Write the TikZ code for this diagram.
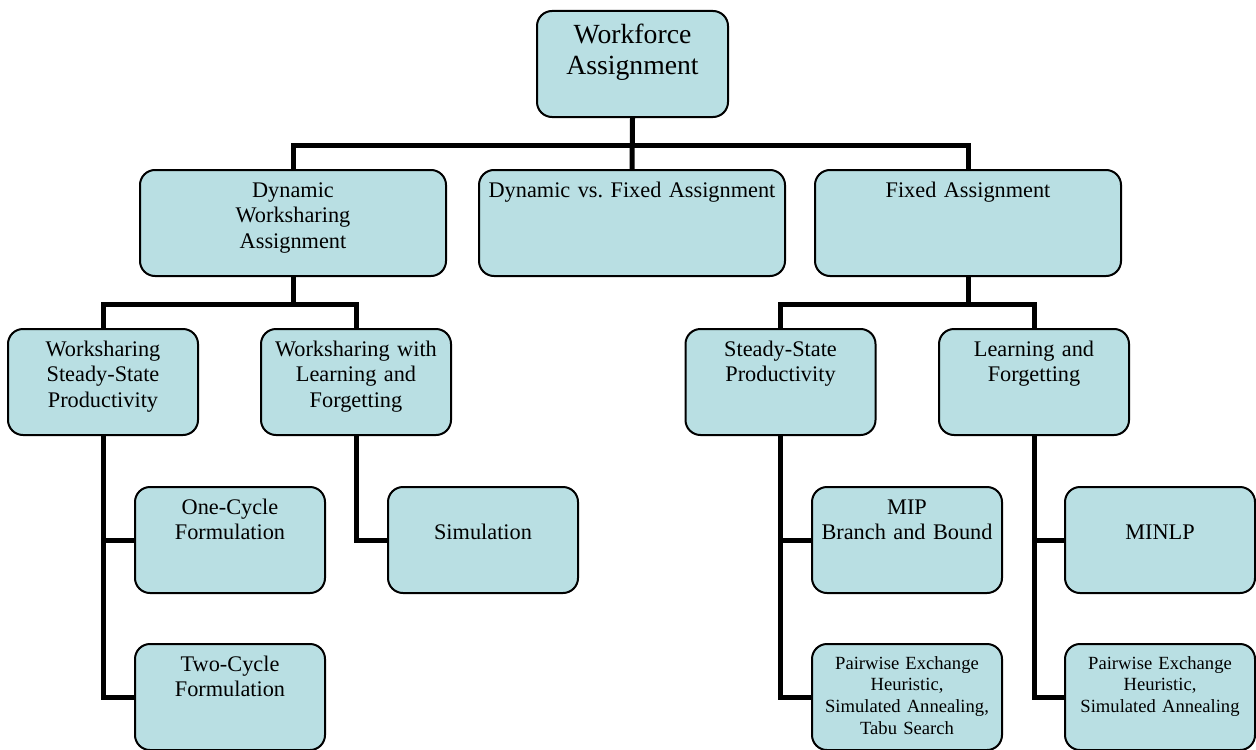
\documentclass[tikz,border=0pt]{standalone}
\usepackage{fontspec}
\setmainfont{Liberation Serif}
\frenchspacing
\definecolor{boxblue}{RGB}{185,223,227}

\tikzset{
  box/.style={draw, line width=1pt, rounded corners=7.5pt, fill=boxblue, anchor=north,
    align=center, inner sep=0pt, text width=95pt, text height=13.5pt, text depth=39.5pt,
    font=\fontsize{11.15}{12.85}\selectfont},
  widebox/.style={box, text width=153pt},
  rootbox/.style={box, text width=95.5pt, text height=16.5pt, text depth=36.5pt,
    font=\fontsize{13.85}{15.5}\selectfont},
  smallbox/.style={box, text height=12.5pt, text depth=40.5pt,
    font=\fontsize{9.3}{10.85}\selectfont},
  link/.style={line width=2.5pt}
}

\begin{document}
\begin{tikzpicture}[x=0.5pt,y=-0.5pt]
\useasboundingbox (0,0) rectangle (1256,749);

\node[rootbox] (wfa) at (632.5,10) {Workforce\\Assignment};

\node[widebox] (dwa) at (293,169) {Dynamic\\Worksharing\\Assignment};
\node[widebox] (dvf) at (632,169) {Dynamic vs. Fixed Assignment};
\node[widebox] (fa) at (968,169) {Fixed Assignment};

\node[box] (wssp) at (103,328) {Worksharing\\Steady-State\\Productivity};
\node[box] (wslf) at (356,328) {Worksharing with\\Learning and\\Forgetting};
\node[box] (ssp) at (780.5,328) {Steady-State\\Productivity};
\node[box] (lf) at (1034,328) {Learning and\\Forgetting};

\node[box] (oc) at (230,486) {One-Cycle\\Formulation};
\node[box] (sim) at (483,486) {\mbox{}\\Simulation};
\node[box] (mip) at (907,486) {MIP\\Branch and Bound};
\node[box] (minlp) at (1160,486) {\mbox{}\\MINLP};

\node[box] (tc) at (230,643) {Two-Cycle\\Formulation};
\node[smallbox] (pe1) at (907,643) {Pairwise Exchange\\Heuristic,\\Simulated Annealing,\\Tabu Search};
\node[smallbox] (pe2) at (1160,643) {Pairwise Exchange\\Heuristic,\\Simulated Annealing};

\coordinate (j0) at (632,145);
\coordinate (j1) at (293,304);
\coordinate (j2) at (968,304);

\draw[link] (wfa.south) -- (dvf.north);
\draw[link] (dwa.north) |- (j0) -| (fa.north);

\draw[link] (dwa.south) -- (j1);
\draw[link] (wssp.north) |- (j1) -| (wslf.north);
\draw[link] (fa.south) -- (j2);
\draw[link] (ssp.north) |- (j2) -| (lf.north);

\draw[link] (wssp.south) |- (oc.west);
\draw[link] (wssp.south) |- (tc.west);
\draw[link] (wslf.south) |- (sim.west);
\draw[link] (ssp.south) |- (mip.west);
\draw[link] (ssp.south) |- (pe1.west);
\draw[link] (lf.south) |- (minlp.west);
\draw[link] (lf.south) |- (pe2.west);

\end{tikzpicture}
\end{document}
